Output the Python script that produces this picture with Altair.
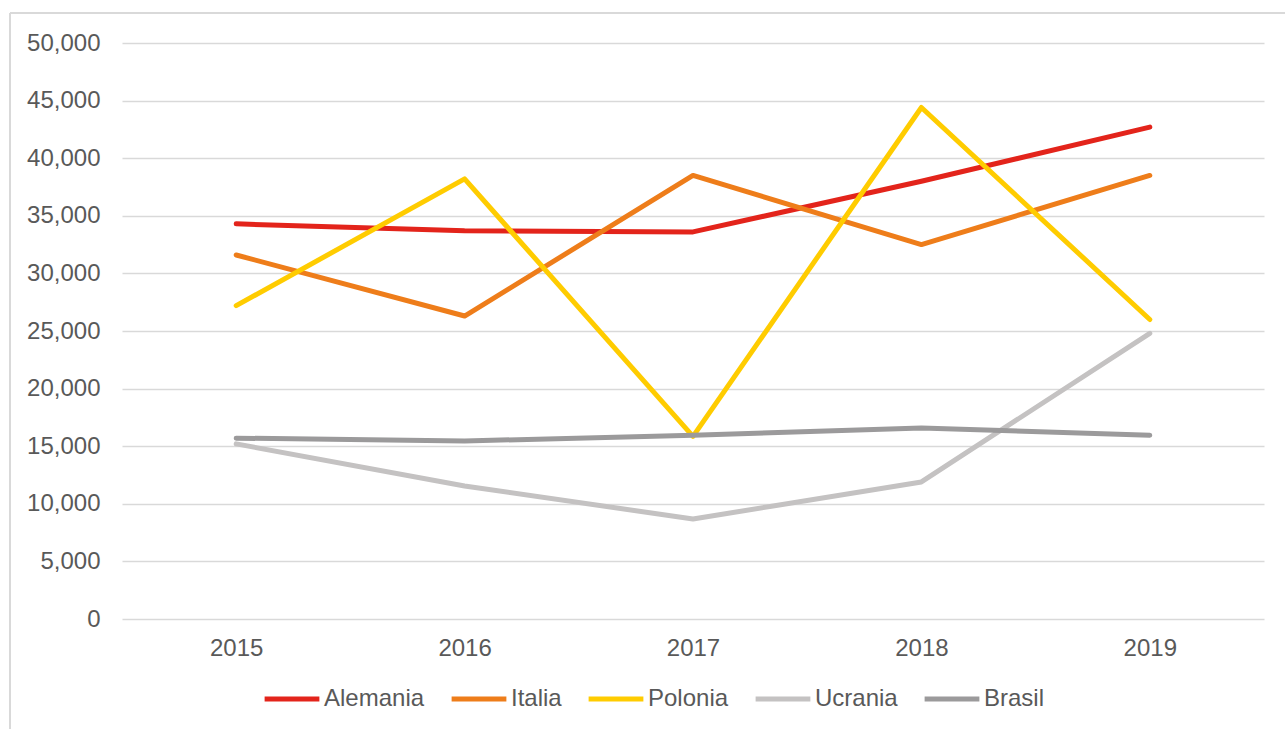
import altair as alt
import pandas as pd

years = ["2015", "2016", "2017", "2018", "2019"]
series = ["Alemania", "Italia", "Polonia", "Ucrania", "Brasil"]
alemania = [34300, 33700, 33600, 38000, 42700]
italia = [31600, 26300, 38500, 32500, 38500]
polonia = [27200, 38200, 15850, 44400, 26000]
ucrania = [15200, 11550, 8680, 11900, 24800]
brasil = [15700, 15450, 15950, 16580, 15950]
colors = ["#E3241B", "#EE7D1A", "#FFCC00", "#C4C2C2", "#9B9A9B"]
y_ticks = [0, 5000, 10000, 15000, 20000, 25000, 30000, 35000, 40000, 45000, 50000]

values = [alemania, italia, polonia, ucrania, brasil]
rows = []
for si, (name, vals) in enumerate(zip(series, values)):
    for y, v in zip(years, vals):
        rows.append({"Year": y, "Serie": name, "Valor": v, "order": si})
df = pd.DataFrame(rows)

TXT = "#595959"
FONT = "Liberation Sans"

frame_left = alt.Chart(pd.DataFrame({"a": [0]})).mark_rule(color="#d9d9d9", strokeWidth=2).encode(
    x=alt.value(-112), y=alt.value(-30), y2=alt.value(700)
)
frame_top = alt.Chart(pd.DataFrame({"a": [0]})).mark_rule(color="#d9d9d9", strokeWidth=2).encode(
    x=alt.value(-112), x2=alt.value(1300), y=alt.value(-30)
)

lines = alt.Chart(df).mark_line(strokeWidth=5, strokeCap="round", strokeJoin="round").encode(
    x=alt.X("Year:O", sort=years, scale=alt.Scale(padding=0.5),
            axis=alt.Axis(title=None, domain=False, ticks=False, labelAngle=0,
                          labelPadding=17, labelFontSize=24, labelColor=TXT, labelFont=FONT,
                          grid=False)),
    y=alt.Y("Valor:Q", scale=alt.Scale(domain=[0, 50000], nice=False),
            axis=alt.Axis(title=None, values=y_ticks, format=",d", domain=False, ticks=False,
                          labelPadding=22, labelFontSize=24, labelColor=TXT, labelFont=FONT,
                          gridColor="#d9d9d9", gridWidth=1.5)),
    color=alt.Color("Serie:N", sort=series,
                    scale=alt.Scale(domain=series, range=colors),
                    legend=alt.Legend(title=None, orient="none", direction="horizontal",
                                      legendX=140, legendY=626,
                                      symbolType="stroke", symbolSize=3000, symbolStrokeWidth=5,
                                      labelFontSize=24, labelColor=TXT, labelFont=FONT,
                                      labelOffset=2, columnPadding=16)),
    order=alt.Order("order:Q"),
    detail="Serie:N",
)

chart = alt.layer(frame_left, frame_top, lines).properties(
    width=1142, height=576,
    padding={"left": 122, "top": 43, "right": 21, "bottom": 110},
    autosize=alt.AutoSizeParams(type="none"),
    background="white",
).configure_view(stroke=None)

chart.save("out.html", embed_options={"renderer": "svg", "actions": False})
